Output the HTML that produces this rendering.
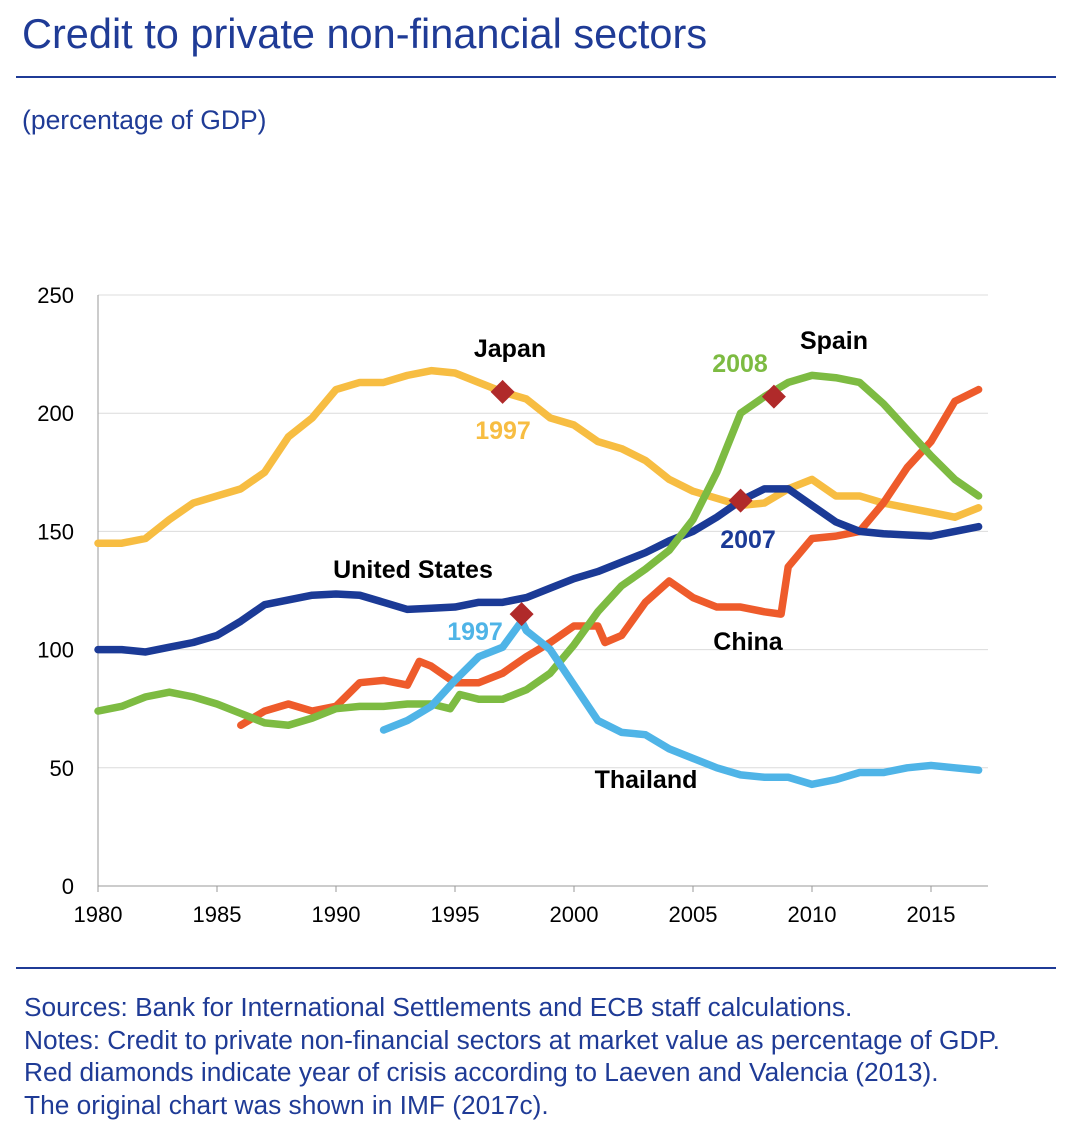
<!DOCTYPE html>
<html><head><meta charset="utf-8"><style>
body{margin:0;width:1070px;height:1118px;background:#fff;font-family:"Liberation Sans",Arial,sans-serif;overflow:hidden;position:relative}
.t{position:absolute;color:#1f3b96;white-space:nowrap}
</style></head><body>
<div class="t" style="left:22px;top:10px;font-size:41.5px">Credit to private non-financial sectors</div>
<div style="position:absolute;left:16px;top:76px;width:1040px;height:2px;background:#1f3b96"></div>
<div class="t" style="left:22px;top:105px;font-size:26.5px">(percentage of GDP)</div>
<svg id="c" width="1070" height="960" style="position:absolute;left:0;top:0"></svg>
<div style="position:absolute;left:16px;top:967px;width:1040px;height:2px;background:#1f3b96"></div>
<div class="t" style="left:24px;top:991px;font-size:26.3px;line-height:32.5px">Sources: Bank for International Settlements and ECB staff calculations.<br>Notes: Credit to private non-financial sectors at market value as percentage of GDP.<br>Red diamonds indicate year of crisis according to Laeven and Valencia (2013).<br>The original chart was shown in IMF (2017c).</div>
<script>
const yTicks=[0,50,100,150,200,250];
const xTicks=[1980,1985,1990,1995,2000,2005,2010,2015];
const japanX=[1980,1981,1982,1983,1984,1985,1986,1987,1988,1989,1990,1991,1992,1993,1994,1995,1996,1997,1998,1999,2000,2001,2002,2003,2004,2005,2006,2007,2008,2009,2010,2011,2012,2013,2014,2015,2016,2017];
const japanY=[145,145,147,155,162,165,168,175,190,198,210,213,213,216,218,217,213,209,206,198,195,188,185,180,172,167,164,161,162,168,172,165,165,162,160,158,156,160];
const usX=japanX;
const usY=[100,100,99,101,103,106,112,119,121,123,123.5,123,120,117,117.5,118,120,120,122,126,130,133,137,141,146,150,156,163,168,168,161,154,150,149,148.5,148,150,152];
const spainX=[1980,1981,1982,1983,1984,1985,1986,1987,1988,1989,1990,1991,1992,1993,1994,1994.8,1995.2,1996,1997,1998,1999,2000,2001,2002,2003,2004,2005,2006,2007,2008,2009,2010,2011,2012,2013,2014,2015,2016,2017];
const spainY=[74,76,80,82,80,77,73,69,68,71,75,76,76,77,77,75,81,79,79,83,90,102,116,127,134,142,155,175,200,207,213,216,215,213,204,193,182,172,165];
const chinaX=[1986,1987,1988,1989,1990,1991,1992,1993,1993.5,1994,1995,1996,1997,1998,1999,2000,2001,2001.3,2002,2003,2004,2005,2006,2007,2008,2008.7,2009,2010,2011,2012,2013,2014,2015,2016,2017];
const chinaY=[68,74,77,74,76,86,87,85,95,93,86,86,90,97,103,110,110,103,106,120,129,122,118,118,116,115,135,147,148,150,162,177,188,205,210];
const thaiX=[1992,1993,1994,1995,1996,1997,1997.8,1998,1999,2000,2001,2002,2003,2004,2005,2006,2007,2008,2009,2010,2011,2012,2013,2014,2015,2016,2017];
const thaiY=[66,70,76,87,97,101,112,108,100,85,70,65,64,58,54,50,47,46,46,43,45,48,48,50,51,50,49];
const crisisNames=["japan-1997","spain-2008","us-2007","thailand-1997"];
const crisisX=[1997,2008.4,2007,1997.8];
const crisisY=[209,207,163,115];
const X=v=>98+(v-1980)*23.8, Y=v=>886-v*2.364;
const svg=document.getElementById('c'),NS='http://www.w3.org/2000/svg';
function mk(t,a,p){const e=document.createElementNS(NS,t);for(const k in a)e.setAttribute(k,a[k]);(p||svg).appendChild(e);return e;}
yTicks.forEach(v=>{
 const g=mk('line',{x1:98,x2:988,y1:Y(v),y2:Y(v),stroke:v?'#dcdcdc':'#999','stroke-width':1});
 
 
 const t=mk('text',{x:74,y:Y(v)+8,'text-anchor':'end','font-size':22,fill:'#000'});t.textContent=v;
 
 
});
mk('line',{x1:98,x2:98,y1:Y(250),y2:886,stroke:'#999'});
xTicks.forEach(v=>{
 mk('line',{x1:X(v),x2:X(v),y1:886,y2:892,stroke:'#999'});
 const t=mk('text',{x:X(v),y:922,'text-anchor':'middle','font-size':22,fill:'#000'});t.textContent=v;
 
 
});
function line(xs,ys,c,n){const p=mk('polyline',{points:xs.map((x,i)=>X(x)+','+Y(ys[i])).join(' '),fill:'none',stroke:c,'stroke-width':7.5,'stroke-linejoin':'round','stroke-linecap':'round'});
 
 }
line(japanX,japanY,'#f7bd42','line-japan');
line(chinaX,chinaY,'#ee5b2b','line-china');
line(usX,usY,'#1b3a96','line-united-states');
line(spainX,spainY,'#7dbb42','line-spain');
line(thaiX,thaiY,'#4fb4e7','line-thailand');
crisisX.forEach((x,i)=>{const cx=X(x),cy=Y(crisisY[i]);
 const d=mk('polygon',{points:`${cx},${cy-12} ${cx+12},${cy} ${cx},${cy+12} ${cx-12},${cy}`,fill:'#b02a2a'});
 
 });
const labs=[["Japan",510,357,'#000'],["1997",503,439,'#f7bd42'],["2008",740,372,'#7dbb42'],["Spain",834,349,'#000'],["2007",748,548,'#1b3a96'],["United States",413,578,'#000'],["1997",475,640,'#4fb4e7'],["China",748,650,'#000'],["Thailand",646,788,'#000']];
labs.forEach(l=>{const t=mk('text',{x:l[1],y:l[2],'text-anchor':'middle','font-size':25,'font-weight':'bold',fill:l[3]});t.textContent=l[0];
 
 });
</script>
</body></html>
